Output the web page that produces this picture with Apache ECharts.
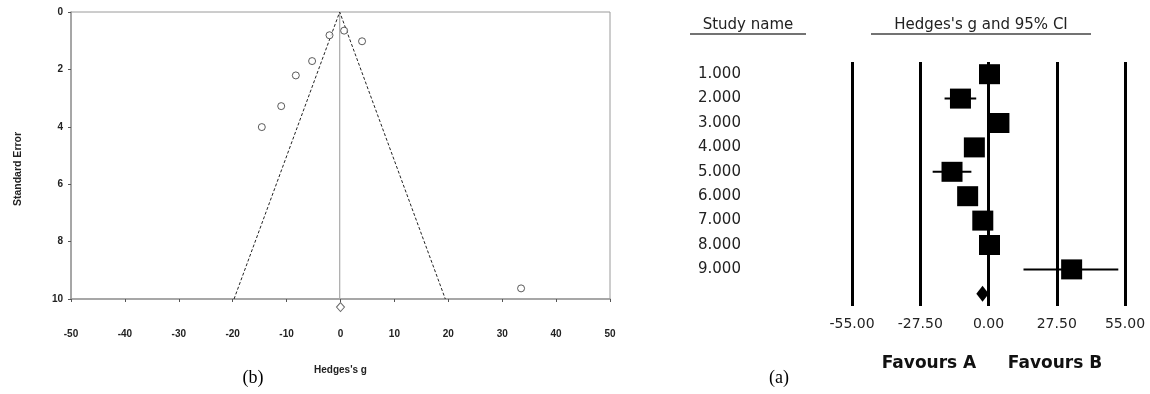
<!DOCTYPE html>
<html>
<head>
<meta charset="utf-8">
<script src="https://cdn.jsdelivr.net/npm/echarts@6/dist/echarts.min.js"></script>
<style>html,body{margin:0;padding:0;background:#fff}#c{width:1150px;height:394px}</style>
</head>
<body>
<div id="c"></div>
<script>
// ---- Funnel plot (b) data ----
const funnelG = [-2.04, 0.67, 4.0, -5.27, -8.29, -11.0, -14.6, 33.5];
const funnelSE = [0.81, 0.65, 1.02, 1.71, 2.21, 3.28, 4.01, 9.63];
const funnelPooled = [0, 10.28];           // open diamond under the axis
const funnelLineX = [-19.75, -0.15, 19.45];  // pseudo 95% limits
const funnelLineY = [10, 0, 10];
const funnelMean = -0.15;

// ---- Forest plot (a) data ----
const studyNames = ['1.000', '2.000', '3.000', '4.000', '5.000', '6.000', '7.000', '8.000', '9.000'];
const studyG  = [0.4, -11.3, 4.2, -5.7, -14.7, -8.4, -2.3, 0.4, 33.5];
const studyLo = [-2.6, -17.7, 1.2, -8.7, -22.5, -11.4, -5.3, -2.6, 14.1];
const studyHi = [3.4, -4.95, 7.2, -2.7, -6.9, -5.4, 0.7, 3.4, 52.3];
const summaryG = -2.4, summaryLo = -4.9, summaryHi = 0.1;

const chart = echarts.init(document.getElementById('c'), null, {renderer: 'canvas'});

const bold10 = {fontFamily: 'Liberation Sans, Arial', fontWeight: 'bold', fontSize: 10, color: '#222'};

const scatterData = funnelG.map((g, i) => [g, funnelSE[i]]);
const funnelLineData = funnelLineX.map((x, i) => [x, funnelLineY[i]]);

const forestData = studyG.map((g, i) => [g, studyLo[i], studyHi[i], i]);
const categories = studyNames.concat(['']);

chart.setOption({
  backgroundColor: '#fff',
  animation: false,
  grid: [
    {left: 71, top: 12, width: 539, height: 287, show: true, borderColor: '#9a9a9a', borderWidth: 1, backgroundColor: 'transparent'},
    {left: 852, top: 62, width: 273, height: 244}
  ],
  xAxis: [
    {
      gridIndex: 0, type: 'value', min: -50, max: 50, interval: 10,
      axisLine: {show: true, onZero: false, lineStyle: {color: '#9a9a9a', width: 1.5}},
      axisTick: {show: true, length: 3, lineStyle: {color: '#555'}},
      axisLabel: Object.assign({margin: 30}, bold10),
      splitLine: {show: false},
      name: "Hedges's g", nameLocation: 'middle', nameGap: 66,
      nameTextStyle: bold10
    },
    {
      gridIndex: 1, type: 'value', min: -55, max: 55, interval: 27.5,
      axisLine: {show: false}, axisTick: {show: false},
      axisLabel: {margin: 11, fontFamily: 'DejaVu Sans', fontSize: 14, color: '#222',
        formatter: v => v.toFixed(2)},
      splitLine: {show: true, showMinLine: true, showMaxLine: true, lineStyle: {color: '#000', width: 3}}
    }
  ],
  yAxis: [
    {
      gridIndex: 0, type: 'value', min: 0, max: 10, interval: 2, inverse: true,
      axisLine: {show: true, onZero: false, lineStyle: {color: '#9a9a9a', width: 1.5}},
      axisTick: {show: true, length: 3, lineStyle: {color: '#555'}},
      axisLabel: Object.assign({margin: 8}, bold10),
      splitLine: {show: false}
    },
    {
      gridIndex: 1, type: 'category', data: categories, inverse: true,
      axisLine: {show: false}, axisTick: {show: false}, splitLine: {show: false},
      axisLabel: {margin: 154, align: 'left', fontFamily: 'DejaVu Sans', fontSize: 15, color: '#222'}
    }
  ],
  graphic: [
    {type: 'text', x: 18, y: 169, rotation: Math.PI / 2,
      style: {text: 'Standard Error', font: 'bold 10.5px "Liberation Sans", Arial', fill: '#222', align: 'center', verticalAlign: 'middle'}},
    {type: 'text', x: 253, y: 378,
      style: {text: '(b)', font: '18px "Liberation Serif", serif', fill: '#000', align: 'center', verticalAlign: 'middle'}},
    {type: 'text', x: 779, y: 378,
      style: {text: '(a)', font: '18px "Liberation Serif", serif', fill: '#000', align: 'center', verticalAlign: 'middle'}},
    {type: 'text', x: 748, y: 25,
      style: {text: 'Study name', font: '15px "DejaVu Sans"', fill: '#222', align: 'center', verticalAlign: 'middle'}},
    {type: 'line', shape: {x1: 690, y1: 34, x2: 806, y2: 34}, style: {stroke: '#444', lineWidth: 1.5}},
    {type: 'text', x: 981, y: 25,
      style: {text: "Hedges's g and 95% CI", font: '15px "DejaVu Sans"', fill: '#222', align: 'center', verticalAlign: 'middle'}},
    {type: 'line', shape: {x1: 871, y1: 34, x2: 1091, y2: 34}, style: {stroke: '#444', lineWidth: 1.5}},
    {type: 'text', x: 929, y: 364,
      style: {text: 'Favours A', font: 'bold 17px "DejaVu Sans"', fill: '#111', align: 'center', verticalAlign: 'middle'}},
    {type: 'text', x: 1055, y: 364,
      style: {text: 'Favours B', font: 'bold 17px "DejaVu Sans"', fill: '#111', align: 'center', verticalAlign: 'middle'}}
  ],
  series: [
    {
      type: 'line', xAxisIndex: 0, yAxisIndex: 0, data: funnelLineData,
      symbol: 'none', lineStyle: {color: '#222', width: 1, type: [3, 2]}, z: 2
    },
    {
      type: 'line', xAxisIndex: 0, yAxisIndex: 0, data: [[funnelMean, 0], [funnelMean, 10]],
      symbol: 'none', lineStyle: {color: '#aaa', width: 1.2}, z: 1
    },
    {
      type: 'scatter', xAxisIndex: 0, yAxisIndex: 0, data: scatterData,
      symbol: 'circle', symbolSize: 7,
      itemStyle: {color: '#fff', borderColor: '#333', borderWidth: 1}, z: 3
    },
    {
      type: 'scatter', xAxisIndex: 0, yAxisIndex: 0, data: [funnelPooled], clip: false,
      symbol: 'diamond', symbolSize: [8, 9],
      itemStyle: {color: '#fff', borderColor: '#444', borderWidth: 1}, z: 3
    },
    {
      type: 'custom', xAxisIndex: 1, yAxisIndex: 1, data: forestData,
      encode: {x: [0, 1, 2], y: 3}, clip: false, z: 5,
      renderItem: function (params, api) {
        const c = api.coord([api.value(0), api.value(3)]);
        const lo = api.coord([api.value(1), api.value(3)]);
        const hi = api.coord([api.value(2), api.value(3)]);
        return {
          type: 'group',
          children: [
            {type: 'line', shape: {x1: lo[0], y1: c[1], x2: hi[0], y2: c[1]}, style: {stroke: '#000', lineWidth: 2}},
            {type: 'rect', shape: {x: c[0] - 10.5, y: c[1] - 10, width: 21, height: 20}, style: {fill: '#000'}}
          ]
        };
      }
    },
    {
      type: 'custom', xAxisIndex: 1, yAxisIndex: 1, data: [[summaryG, summaryLo, summaryHi, 9]],
      encode: {x: [0, 1, 2], y: 3}, clip: false, z: 5,
      renderItem: function (params, api) {
        const c = api.coord([api.value(0), api.value(3)]);
        const lo = api.coord([api.value(1), api.value(3)]);
        const hi = api.coord([api.value(2), api.value(3)]);
        return {
          type: 'polygon',
          shape: {points: [[lo[0], c[1]], [c[0], c[1] - 8], [hi[0], c[1]], [c[0], c[1] + 8]]},
          style: {fill: '#000'}
        };
      }
    }
  ]
});
</script>
</body>
</html>
